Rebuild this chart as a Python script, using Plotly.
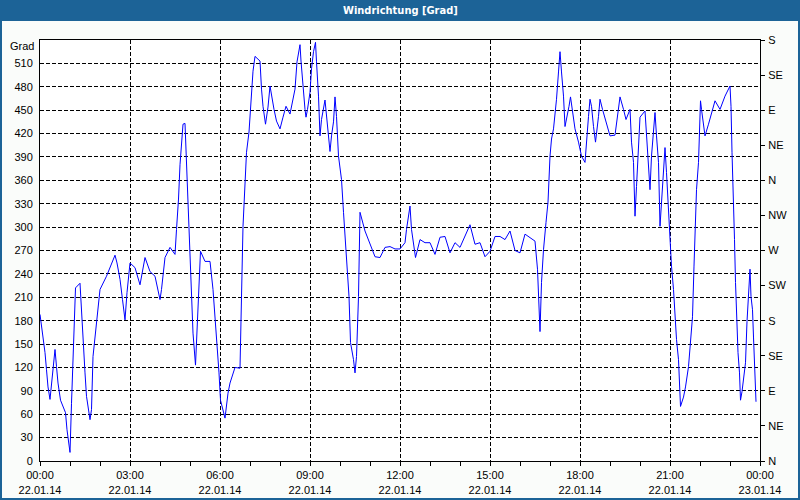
import plotly.graph_objects as go
import pandas as pd

# minutes after 22.01.14 00:00 and wind direction in degrees
minutes = [0, 5, 10, 13, 16, 20, 30, 33, 36, 41, 46, 51, 54, 58, 60, 63, 65, 68, 71, 80,
           83, 86, 90, 93, 100, 103, 106, 113, 120, 133, 150, 154, 160, 165, 170, 174, 180, 190, 200, 210,
           220, 230, 240, 243, 250, 260, 270, 273, 277, 280, 286, 290, 296, 300, 306, 311, 316, 321, 330, 340,
           346, 353, 358, 361, 365, 370, 376, 380, 390, 400, 406, 410, 413, 418, 420, 423, 426, 430, 440, 443,
           446, 451, 456, 460, 463, 468, 473, 480, 486, 492, 500, 505, 510, 514, 520, 522, 525, 530, 532, 535,
           540, 543, 547, 551, 553, 557, 560, 563, 570, 573, 577, 580, 583, 587, 590, 593, 597, 603, 607, 610,
           613, 618, 621, 627, 630, 633, 637, 640, 650, 660, 670, 680, 690, 700, 710, 720, 730, 733, 740, 743,
           747, 751, 760, 770, 780, 790, 800, 810, 820, 830, 840, 850, 860, 870, 880, 890, 900, 910, 920, 930,
           940, 950, 960, 970, 980, 990, 995, 998, 1000, 1003, 1007, 1012, 1016, 1020, 1023, 1027, 1030, 1033, 1037, 1040,
           1043, 1047, 1050, 1053, 1058, 1061, 1065, 1070, 1077, 1083, 1090, 1093, 1097, 1100, 1103, 1107, 1111, 1117, 1120, 1125,
           1132, 1140, 1150, 1155, 1160, 1167, 1172, 1180, 1183, 1187, 1190, 1193, 1200, 1210, 1213, 1217, 1220, 1223, 1227, 1230,
           1233, 1237, 1240, 1243, 1247, 1250, 1253, 1257, 1260, 1263, 1267, 1270, 1273, 1277, 1279, 1281, 1287, 1291, 1297, 1301,
           1305, 1308, 1312, 1313, 1317, 1320, 1321, 1323, 1327, 1330, 1337, 1343, 1350, 1360, 1370, 1380, 1382, 1384, 1387, 1389,
           1391, 1393, 1396, 1399, 1401, 1404, 1408, 1411, 1414, 1417, 1420, 1422, 1425, 1427, 1429, 1431, 1432]
direction = [188, 165, 139, 117, 95, 79, 143, 121, 100, 78, 70, 62, 40, 18, 11, 74, 117, 160, 222, 228,
             190, 164, 113, 83, 53, 66, 134, 177, 220, 237, 264, 254, 233, 207, 181, 216, 254, 248, 226, 261,
             243, 237, 207, 220, 261, 274, 265, 297, 336, 380, 432, 433, 336, 275, 164, 123, 207, 269, 256, 256,
             220, 164, 113, 78, 66, 55, 87, 100, 120, 119, 301, 348, 396, 422, 445, 474, 500, 519, 513, 477,
             455, 432, 454, 481, 468, 451, 436, 426, 441, 455, 445, 460, 477, 512, 534, 513, 486, 451, 441, 451,
             473, 503, 525, 537, 512, 468, 417, 438, 463, 442, 422, 397, 417, 435, 467, 442, 391, 361, 319, 290,
             250, 211, 152, 130, 113, 134, 211, 319, 295, 278, 262, 261, 274, 275, 272, 272, 280, 297, 327, 297,
             280, 261, 284, 280, 280, 265, 287, 288, 267, 280, 274, 288, 303, 278, 280, 262, 269, 288, 288, 284,
             295, 270, 267, 291, 287, 282, 246, 203, 166, 229, 271, 306, 332, 391, 413, 426, 442, 464, 499, 525,
             499, 468, 429, 438, 455, 467, 447, 426, 409, 391, 383, 404, 442, 464, 455, 429, 409, 442, 464, 451,
             435, 417, 418, 442, 467, 451, 438, 451, 409, 383, 314, 352, 441, 449, 422, 383, 348, 391, 422, 447,
             417, 383, 301, 332, 370, 402, 370, 314, 284, 250, 220, 185, 156, 130, 104, 70, 82, 95, 121, 152,
             185, 250, 314, 348, 383, 447, 462, 451, 429, 417, 432, 447, 462, 451, 468, 481, 455, 396, 339, 284,
             229, 185, 139, 113, 78, 89, 108, 126, 179, 207, 246, 211, 194, 159, 126, 91, 76]

left_ticks = list(range(0, 540, 30))
right_ticks = list(range(0, 541, 45))
right_labels = ["N", "NE", "E", "SE", "S", "SW", "W", "NW", "N", "NE", "E", "SE", "S"]
x_tick_hours = list(range(0, 25, 3))
x_tick_labels = ["00:00<br>22.01.14", "03:00<br>22.01.14", "06:00<br>22.01.14", "09:00<br>22.01.14",
                 "12:00<br>22.01.14", "15:00<br>22.01.14", "18:00<br>22.01.14", "21:00<br>22.01.14",
                 "00:00<br>23.01.14"]
title_text = "Windrichtung [Grad]"
unit_text = "Grad"

start = pd.Timestamp("2014-01-22 00:00")
times = [start + pd.Timedelta(minutes=m) for m in minutes]
xticks = [start + pd.Timedelta(hours=h) for h in x_tick_hours]
minor_ticks = [start + pd.Timedelta(hours=h) for h in range(0, 25)]

FONT = "Liberation Sans, Arial, sans-serif"
BLUE_FRAME = "#1C6397"
DASH = "4px,2px"

fig = go.Figure()
fig.add_trace(go.Scatter(x=times, y=direction, mode="lines",
                         line=dict(color="#0000FF", width=1), hoverinfo="skip", yaxis="y"))
fig.add_trace(go.Scatter(x=times, y=direction, mode="lines",
                         line=dict(color="rgba(0,0,0,0)", width=0), hoverinfo="skip", yaxis="y2",
                         showlegend=False))

W, H = 800, 500
L, R, T, B = 40, 40, 40, 39
pw, ph = W - L - R, H - T - B


def px(xp):
    return (xp - L) / pw


def py(yp):
    return (H - B - yp) / ph


fig.update_layout(
    width=W, height=H, showlegend=False,
    margin=dict(l=L, r=R, t=T, b=B, pad=0, autoexpand=False),
    paper_bgcolor="#FAFCFA", plot_bgcolor="#FFFFFF",
    font=dict(family=FONT, size=11, color="#000000"),
    xaxis=dict(type="date", range=[start, start + pd.Timedelta(hours=24)],
               tickmode="array", tickvals=xticks, ticktext=x_tick_labels,
               ticks="outside", ticklen=4, tickcolor="#000000", tickwidth=1,
               showgrid=True, gridcolor="#000000", griddash=DASH, gridwidth=1,
               showline=True, linecolor="#000000", linewidth=1, mirror=True,
               zeroline=False, tickangle=0, automargin=False,
               minor=dict(tickmode="array", tickvals=minor_ticks, ticks="outside", ticklen=4,
                          tickcolor="#000000", showgrid=False)),
    yaxis=dict(range=[0, 540], tickmode="array", tickvals=left_ticks,
               ticks="", showgrid=True, gridcolor="#000000", griddash=DASH, gridwidth=1,
               showline=True, linecolor="#000000", linewidth=1, mirror=True,
               zeroline=False, ticklabelstandoff=4, automargin=False),
    yaxis2=dict(range=[0, 540], overlaying="y", side="right", tickmode="array",
                tickvals=right_ticks, ticktext=right_labels, ticks="outside", ticklen=4,
                tickcolor="#000000", showgrid=False, showline=True, linecolor="#000000",
                linewidth=1, zeroline=False, ticklabelstandoff=1, automargin=False),
    shapes=[
        dict(type="rect", xref="paper", yref="paper", x0=px(0), x1=px(800), y0=py(21), y1=py(0),
             fillcolor=BLUE_FRAME, line=dict(width=0), layer="above"),
        dict(type="rect", xref="paper", yref="paper", x0=px(1), x1=px(799), y0=py(499), y1=py(10),
             line=dict(color=BLUE_FRAME, width=2), fillcolor="rgba(0,0,0,0)", layer="above"),
    ],
    annotations=[
        dict(text="<b>" + title_text + "</b>", xref="paper", yref="paper", x=px(400), y=py(10.5),
             xanchor="center", yanchor="middle", showarrow=False,
             font=dict(family="DejaVu Sans Condensed, Liberation Sans Narrow, Liberation Sans, Arial",
                       size=11, color="#FFFFFF")),
        dict(text=unit_text, xref="paper", yref="paper", x=px(36), y=py(46),
             xanchor="right", yanchor="middle", showarrow=False,
             font=dict(family=FONT, size=11, color="#000000")),
    ],
)

fig.write_html("out.html", config={"displayModeBar": False},
               post_script="document.body.style.margin='0';document.body.style.overflow='hidden';")
